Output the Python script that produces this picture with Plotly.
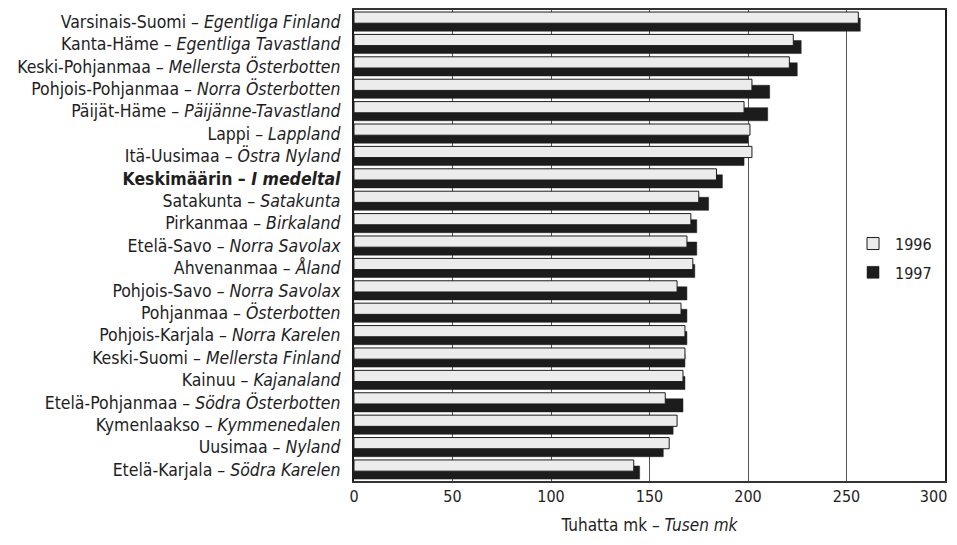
import plotly.graph_objects as go

finnish = ["Varsinais-Suomi", "Kanta-Häme", "Keski-Pohjanmaa", "Pohjois-Pohjanmaa",
           "Päijät-Häme", "Lappi", "Itä-Uusimaa", "Keskimäärin", "Satakunta",
           "Pirkanmaa", "Etelä-Savo", "Ahvenanmaa", "Pohjois-Savo", "Pohjanmaa",
           "Pohjois-Karjala", "Keski-Suomi", "Kainuu", "Etelä-Pohjanmaa",
           "Kymenlaakso", "Uusimaa", "Etelä-Karjala"]
swedish = ["Egentliga Finland", "Egentliga Tavastland", "Mellersta Österbotten",
           "Norra Österbotten", "Päijänne-Tavastland", "Lappland", "Östra Nyland",
           "I medeltal", "Satakunta", "Birkaland", "Norra Savolax", "Åland",
           "Norra Savolax", "Österbotten", "Norra Karelen", "Mellersta Finland",
           "Kajanaland", "Södra Österbotten", "Kymmenedalen", "Nyland", "Södra Karelen"]
v1996 = [256, 223, 221, 202, 198, 201, 202, 184, 175, 171, 169, 172, 164, 166,
         168, 168, 167, 158, 164, 160, 142]
v1997 = [257, 227, 225, 211, 210, 200, 198, 187, 180, 174, 174, 173, 169, 169,
         169, 168, 168, 167, 162, 157, 145]
xticks = [0, 50, 100, 150, 200, 250, 300]
xticklabels = ["0", "50", "100", "150", "200", "250", "300"]
highlight = "Keskimäärin"

labels = []
for fi, sv in zip(finnish, swedish):
    s = f"{fi} – <i>{sv}</i>"
    if fi == highlight:
        s = f"<b>{s}</b>"
    labels.append(s)

# keep the last tick label inside the visible page edge
xtext = list(xticklabels)
xtext[-1] = xtext[-1] + "\u00a0" * 5

FONT = "Liberation Sans Narrow, DejaVu Sans Condensed, Arial Narrow, sans-serif"

fig = go.Figure()
fig.add_trace(go.Bar(
    y=labels, x=v1997, orientation="h", name="1997",
    marker=dict(color="#1c1c1c", line=dict(color="#1c1c1c", width=0.5)),
    offset=-0.16, width=0.585, legendrank=2, legendgroup="b",
))
fig.add_trace(go.Bar(
    y=labels, x=v1996, orientation="h", name="1996",
    marker=dict(color="#ececec", line=dict(color="#1c1c1c", width=1)),
    offset=-0.43, width=0.5, legendrank=1, legendgroup="a",
))

# page body has an 8px margin, so the figure is shifted by 8px right and down
fig.update_layout(
    width=949, height=529,
    margin=dict(l=346, r=12, t=2, b=56),
    barmode="overlay",
    plot_bgcolor="white", paper_bgcolor="white",
    font=dict(family=FONT, size=17.5, color="#1e1e1e"),
    showlegend=True,
    legend=dict(x=0.841, y=0.54, xanchor="left", yanchor="top",
                bgcolor="rgba(0,0,0,0)", font=dict(size=16),
                itemwidth=34, tracegroupgap=5),
)
fig.update_xaxes(
    range=[0, 300], tickvals=xticks, ticktext=xtext,
    showgrid=True, gridcolor="#555555", gridwidth=1,
    showline=True, linecolor="#333333", linewidth=1.5, mirror=True,
    zeroline=False, ticks="", tickfont=dict(size=16), ticklabeloverflow="allow",
    automargin=False,
    title=dict(text="Tuhatta mk – <i>Tusen mk</i>", font=dict(size=17), standoff=14),
)
fig.update_yaxes(
    type="category", range=[20.51, -0.52], showgrid=False,
    showline=True, linecolor="#1c1c1c", linewidth=2, mirror=True,
    ticks="", ticklabelstandoff=8, automargin=False,
)

fig.write_html("out.html")
